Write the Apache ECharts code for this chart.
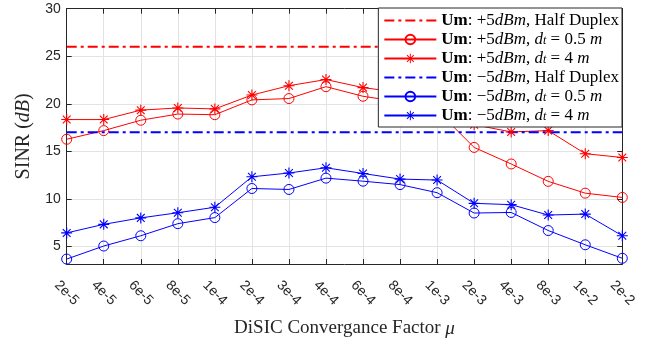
<!DOCTYPE html>
<html>
<head>
<meta charset="utf-8">
<script src="https://cdn.jsdelivr.net/npm/echarts@6/dist/echarts.min.js"></script>
<style>
html,body{margin:0;padding:0;background:#fff;}
#c{width:662px;height:343px;}
</style>
</head>
<body>
<div id="c"></div>
<script>
// ---- data ----
var categories = ['2e-5','4e-5','6e-5','8e-5','1e-4','2e-4','3e-4','4e-4','6e-4','8e-4','1e-3','2e-3','4e-3','8e-3','1e-2','2e-2'];
var plusHalfDuplex = [26,26,26,26,26,26,26,26,26,26,26,26,26,26,26,26];
var plusD05 = [16.27,17.18,18.27,18.92,18.85,20.41,20.55,21.8,20.79,20.2,19.3,15.41,13.67,11.84,10.6,10.15];
var plusD4 = [18.34,18.34,19.33,19.56,19.46,20.92,21.9,22.55,21.7,21.2,18.4,17.8,17.04,17.18,14.75,14.35];
var minusHalfDuplex = [17,17,17,17,17,17,17,17,17,17,17,17,17,17,17,17];
var minusD05 = [3.67,5.04,6.12,7.39,8.03,11.09,10.99,12.18,11.86,11.5,10.65,8.51,8.57,6.67,5.17,3.75];
var minusD4 = [6.42,7.32,8.0,8.54,9.12,12.32,12.72,13.27,12.67,12.08,11.98,9.53,9.39,8.3,8.4,6.12];
var yTicks = [5,10,15,20,25,30];

var seriesNames = [
  'Um: +5dBm, Half Duplex',
  'Um: +5dBm, d_t = 0.5 m',
  'Um: +5dBm, d_t = 4 m',
  'Um: -5dBm, Half Duplex',
  'Um: -5dBm, d_t = 0.5 m',
  'Um: -5dBm, d_t = 4 m'
];
var legendRich = {};
legendRich[seriesNames[0]] = '{b|Um}: +5{i|dBm}, Half Duplex';
legendRich[seriesNames[1]] = '{b|Um}: +5{i|dBm}, {i|d}{s|t} = 0.5 {i|m}';
legendRich[seriesNames[2]] = '{b|Um}: +5{i|dBm}, {i|d}{s|t} = 4 {i|m}';
legendRich[seriesNames[3]] = '{b|Um}: \u22125{i|dBm}, Half Duplex';
legendRich[seriesNames[4]] = '{b|Um}: \u22125{i|dBm}, {i|d}{s|t} = 0.5 {i|m}';
legendRich[seriesNames[5]] = '{b|Um}: \u22125{i|dBm}, {i|d}{s|t} = 4 {i|m}';

var RED = '#ff0000', BLUE = '#0000ff', AX = '#262626', GRIDC = '#e3e3e3';
var SERIF = '"Liberation Serif", "DejaVu Serif", serif';
var SANS = '"Liberation Sans", Arial, sans-serif';
var STAR = 'path://M9,0L11,0L11,20L9,20Z M0,9L20,9L20,11L0,11Z M3.64,2.22L17.78,16.36L16.36,17.78L2.22,3.64Z M17.78,3.64L3.64,17.78L2.22,16.36L16.36,2.22Z';
var DASHDOT = [10,4,3,4];

function lineSeries(name, data, color, opt) {
  var s = {
    name: name, type: 'line', data: data,
    xAxisIndex: 0, yAxisIndex: 0,
    lineStyle: {color: color, width: opt.width || 1, type: opt.dash || 'solid'},
    itemStyle: {color: color},
    symbol: opt.symbol || 'none',
    symbolSize: opt.size || 10,
    showSymbol: !!opt.symbol,
    animation: false,
    emphasis: {disabled: true},
    z: opt.z || 3
  };
  if (opt.symbol === 'circle') {
    s.itemStyle = {color: 'rgba(255,255,255,0)', borderColor: color, borderWidth: 1};
  }
  if (opt.symbol === STAR) {
    s.itemStyle = {color: color, borderWidth: 0};
  }
  return s;
}

var legendData = seriesNames.map(function (n, k) {
  if (k === 0 || k === 3) {
    return {name: n, itemStyle: {opacity: 0}};
  }
  return {name: n};
});

var chart = echarts.init(document.getElementById('c'), null, {renderer: 'canvas'});
var FS = 17;
var richText = {
  b: {fontFamily: SERIF, fontSize: FS, fontWeight: 'bold', color: '#000', lineHeight: 15},
  i: {fontFamily: SERIF, fontSize: FS, fontStyle: 'italic', color: '#000', lineHeight: 15},
  s: {fontFamily: SERIF, fontSize: 12, fontStyle: 'italic', color: '#000', lineHeight: 15, verticalAlign: 'bottom'}
};
chart.setOption({
  animation: false,
  backgroundColor: '#fff',
  grid: {left: 66.7, right: 39.7, top: 8.7, bottom: 71.3, show: false},
  legend: {
    show: true, orient: 'vertical', right: 40, top: 8,
    data: legendData,
    itemWidth: 52, itemHeight: 12, itemGap: 2,
    padding: [4, 3, 3, 5],
    backgroundColor: '#fff', borderColor: AX, borderWidth: 1,
    selectedMode: false,
    textStyle: {fontFamily: SERIF, fontSize: FS, color: '#000', lineHeight: 15, rich: richText},
    formatter: function (n) { return legendRich[n]; }
  },
  xAxis: [{
    type: 'category', data: categories, boundaryGap: false, position: 'bottom',
    axisLine: {show: true, lineStyle: {color: AX, width: 1}},
    axisTick: {show: true, inside: true, length: 5, lineStyle: {color: AX}},
    axisLabel: {rotate: -45, align: 'center', verticalAlign: 'middle', margin: 29, color: AX, fontFamily: SANS, fontSize: 14, interval: 0},
    splitLine: {show: true, lineStyle: {color: GRIDC, width: 1}},
    name: 'DiSIC Convergance Factor {i|\u03bc}', nameLocation: 'middle', nameGap: 55,
    nameTextStyle: {fontFamily: SERIF, fontSize: 19, color: AX,
      rich: {i: {fontFamily: SERIF, fontSize: 19, fontStyle: 'italic', color: AX}}}
  }, {
    type: 'category', data: categories, boundaryGap: false, position: 'top',
    axisLine: {show: true, lineStyle: {color: AX, width: 1}},
    axisTick: {show: true, inside: true, length: 5, lineStyle: {color: AX}},
    axisLabel: {show: false}, splitLine: {show: false}
  }],
  yAxis: [{
    type: 'value', min: 3.15, max: 30, splitNumber: 5, position: 'left',
    axisLine: {show: true, lineStyle: {color: AX, width: 1}},
    axisTick: {show: true, inside: true, length: 5, lineStyle: {color: AX}},
    axisLabel: {color: AX, fontFamily: SANS, fontSize: 14, margin: 6,
      formatter: function (v) { return yTicks.indexOf(v) >= 0 ? String(v) : ''; }},
    splitLine: {show: true, lineStyle: {color: GRIDC, width: 1}},
    name: 'SINR ({i|dB})', nameLocation: 'middle', nameGap: 31,
    nameTextStyle: {fontFamily: SERIF, fontSize: 20, color: AX,
      rich: {i: {fontFamily: SERIF, fontSize: 20, fontStyle: 'italic', color: AX}}}
  }, {
    type: 'value', min: 3.15, max: 30, splitNumber: 5, position: 'right',
    axisLine: {show: true, lineStyle: {color: AX, width: 1}},
    axisTick: {show: true, inside: true, length: 5, lineStyle: {color: AX}},
    axisLabel: {show: false}, splitLine: {show: false}
  }],
  series: [
    lineSeries(seriesNames[0], plusHalfDuplex, RED, {width: 2, dash: DASHDOT}),
    lineSeries(seriesNames[1], plusD05, RED, {symbol: 'circle', size: 10}),
    lineSeries(seriesNames[2], plusD4, RED, {symbol: STAR, size: 11}),
    lineSeries(seriesNames[3], minusHalfDuplex, BLUE, {width: 2, dash: DASHDOT}),
    lineSeries(seriesNames[4], minusD05, BLUE, {symbol: 'circle', size: 10}),
    lineSeries(seriesNames[5], minusD4, BLUE, {symbol: STAR, size: 11})
  ]
});
</script>
</body>
</html>
